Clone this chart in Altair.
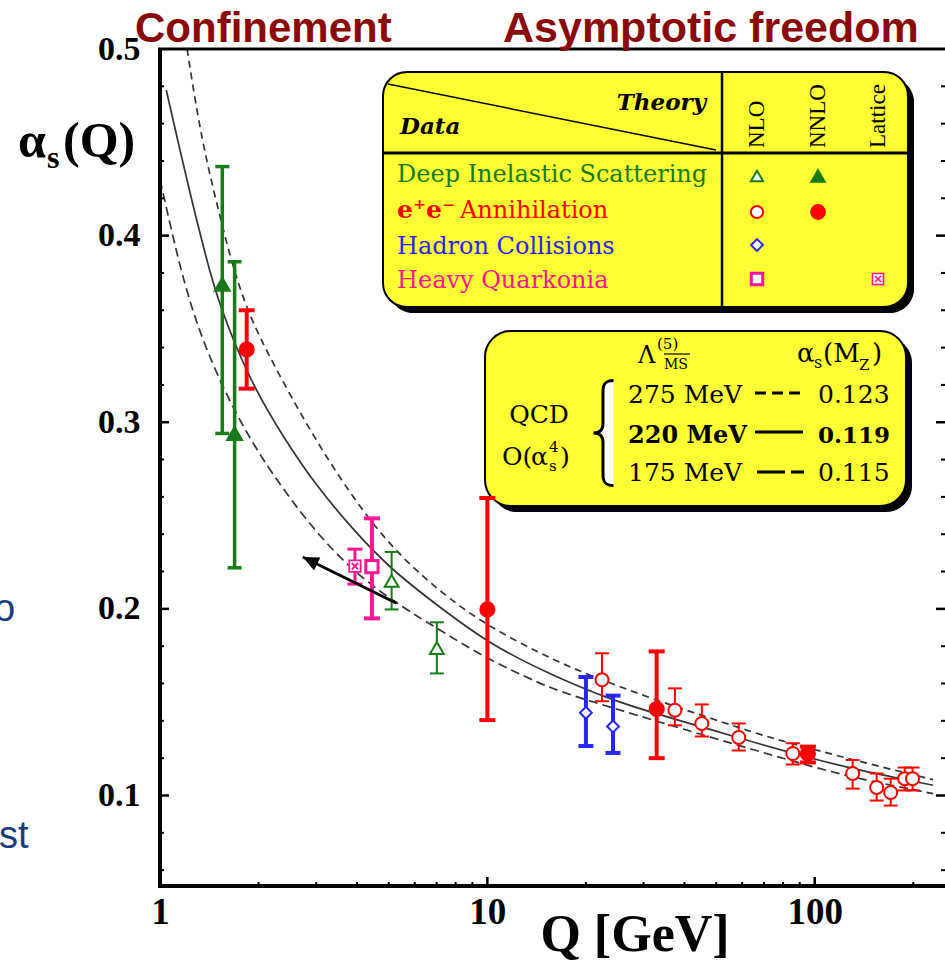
import altair as alt
import pandas as pd

# ---------------- data ----------------
# Q [GeV], alpha_s, lower / upper end of the error bar
dis_nlo_q = [5.10, 7.01]
dis_nlo_a = [0.215, 0.179]
dis_nlo_lo = [0.1997, 0.1654]
dis_nlo_hi = [0.2305, 0.1928]

dis_nnlo_q = [1.55, 1.69]
dis_nnlo_a = [0.374, 0.294]
dis_nnlo_lo = [0.294, 0.222]
dis_nnlo_hi = [0.437, 0.386]

ee_nlo_q = [22.4, 37.4, 45.2, 58.6, 85.7, 130.6, 154.6, 170.6, 188.3, 199.0]
ee_nlo_a = [0.1620, 0.1457, 0.1386, 0.1311, 0.1225, 0.1118, 0.1043, 0.1016, 0.1090, 0.1090]
ee_nlo_lo = [0.1505, 0.1376, 0.1316, 0.1241, 0.1166, 0.1037, 0.0973, 0.0946, 0.1027, 0.1027]
ee_nlo_hi = [0.1762, 0.1574, 0.1488, 0.1386, 0.1280, 0.1190, 0.1118, 0.1090, 0.1150, 0.1150]

ee_nnlo_q = [1.84, 10.0, 32.9, 95.3]
ee_nnlo_a = [0.339, 0.1997, 0.1463, 0.1225]
ee_nnlo_lo = [0.318, 0.1404, 0.1200, 0.1177]
ee_nnlo_hi = [0.360, 0.2594, 0.1772, 0.1262]

had_q = [20.0, 24.2]
had_a = [0.1443, 0.1370]
had_lo = [0.1265, 0.1228]
had_hi = [0.1635, 0.1535]

hq_nlo_q = [4.44]
hq_nlo_a = [0.2226]
hq_nlo_lo = [0.1949]
hq_nlo_hi = [0.2485]

hq_lat_q = [3.94]
hq_lat_a = [0.2229]
hq_lat_lo = [0.2133]
hq_lat_hi = [0.2320]

# QCD curves
c220_q = [1.045, 1.15, 1.25, 1.37, 1.5, 1.88, 2.4, 3.0, 3.8, 5.0, 7.2, 10, 15, 24, 34, 50, 68, 100, 136, 230]
c220_a = [0.478, 0.446, 0.419, 0.391, 0.365, 0.322, 0.291, 0.266, 0.2445, 0.222, 0.2005, 0.182, 0.166,
          0.151, 0.143, 0.1345, 0.1275, 0.1195, 0.1135, 0.1055]
c275_q = [1.21, 1.30, 1.40, 1.54, 1.69, 1.9, 2.4, 3.0, 3.8, 4.8, 6.0, 7.7, 10, 14.5, 20, 34, 50, 68, 100, 150, 230]
c275_a = [0.500, 0.465, 0.437, 0.407, 0.380, 0.354, 0.320, 0.290, 0.262, 0.2385, 0.221, 0.205, 0.191,
          0.176, 0.165, 0.150, 0.1405, 0.1325, 0.1245, 0.1165, 0.1085]
c175_q = [1.0, 1.09, 1.165, 1.28, 1.5, 1.88, 2.4, 3.0, 3.8, 4.8, 6.1, 7.2, 10, 14.5, 17, 34, 68, 100, 136, 230]
c175_a = [0.430, 0.401, 0.380, 0.355, 0.324, 0.2905, 0.263, 0.241, 0.222, 0.208, 0.196, 0.1885, 0.173,
          0.160, 0.155, 0.139, 0.1235, 0.115, 0.109, 0.101]

# arrow annotation (tail, tip)
arrow_q = [5.28, 2.73]
arrow_a = [0.2030, 0.2278]

# axis ticks
x_labels = [1, 10, 100]
x_major = [10, 100]
x_minor = [2, 3, 4, 5, 6, 7, 8, 9, 20, 30, 40, 50, 60, 70, 80, 90, 200]
y_labels = [0.1, 0.2, 0.3, 0.4, 0.5]
y_major = [0.1, 0.2, 0.3, 0.4]
y_minor = [0.06, 0.08, 0.12, 0.14, 0.16, 0.18, 0.22, 0.24, 0.26, 0.28, 0.32, 0.34, 0.36, 0.38,
           0.42, 0.44, 0.46, 0.48]

# ---------------- styling ----------------
GREEN = "#187a18"
RED = "#ff0000"
BLUE = "#2626f0"
MAGENTA = "#ff1493"
YELLOW = "#ffff33"
DARKRED = "#8a0a0a"
NAVY = "#1a3b7c"
CURVE = "#333333"
SERIF = "Liberation Serif"
LSERIF = "DejaVu Serif"
SANS = "Liberation Sans"

LATTICE = "M-1,-1L1,-1L1,1L-1,1Z M-0.55,-0.55L0.55,0.55 M0.55,-0.55L-0.55,0.55"
ARROWHEAD = "M0,0 L0.45,1 L-0.45,1 Z"
BRACE = ("M0.2,-1 C0.05,-1 0,-0.94 0,-0.8 L0,-0.18 C0,-0.06 -0.06,0 -0.18,0 "
         "C-0.06,0 0,0.06 0,0.18 L0,0.8 C0,0.94 0.05,1 0.2,1")

W, H = 785, 837
OX, OY = 160, 49
XS = alt.Scale(type="log", domain=[1, 250], nice=False)
YS = alt.Scale(domain=[0.0515, 0.5], nice=False, zero=False)
XAX = alt.Axis(values=x_labels, format="d", title=None, ticks=False, domain=False, grid=False,
               labelFont=SERIF, labelFontWeight="bold", labelFontSize=37, labelColor="black",
               labelPadding=8, labelFlush=False, labelOverlap=False)
YAX = alt.Axis(values=y_labels, format=".1f", title=None, ticks=False, domain=False, grid=False,
               labelFont=SERIF, labelFontWeight="bold", labelFontSize=34, labelColor="black",
               labelPadding=20, labelFlush=False, labelOverlap=False)


def X(field):
    return alt.X(field, type="quantitative", scale=XS, axis=XAX)


def Y(field):
    return alt.Y(field, type="quantitative", scale=YS, axis=YAX)


one = pd.DataFrame({"k": [0]})


def T(text, x, y, size, color="black", font=LSERIF, weight="normal", style="normal",
      align="left", baseline="alphabetic", angle=0):
    return alt.Chart(one).mark_text(text=text, fontSize=size, color=color, font=font,
                                    fontWeight=weight, fontStyle=style, align=align,
                                    baseline=baseline, angle=angle).encode(
        x=alt.value(x - OX), y=alt.value(y - OY))


def R(x1, y1, x2, y2, w=1.0, color="black", dash=None):
    kw = dict(color=color, strokeWidth=w)
    if dash:
        kw["strokeDash"] = dash
    return alt.Chart(one).mark_rule(**kw).encode(
        x=alt.value(x1 - OX), y=alt.value(y1 - OY), x2=alt.value(x2 - OX), y2=alt.value(y2 - OY))


def B(x1, y1, x2, y2, fill, r, stroke=None, w=0):
    kw = dict(color=fill, cornerRadius=r)
    if stroke:
        kw.update(stroke=stroke, strokeWidth=w)
    return alt.Chart(one).mark_rect(**kw).encode(
        x=alt.value(x1 - OX), y=alt.value(y1 - OY), x2=alt.value(x2 - OX), y2=alt.value(y2 - OY))


def S(x, y, shape, size, color, hollow=True, sw=2.0, angle=0):
    return alt.Chart(one).mark_point(shape=shape, size=size, filled=True,
                                     fill="white" if hollow else color, stroke=color,
                                     strokeWidth=sw, opacity=1, angle=angle).encode(
        x=alt.value(x - OX), y=alt.value(y - OY))


layers = []

# ---- curves ----
for q, a, dash in [(c275_q, c275_a, [7, 5]), (c175_q, c175_a, [9, 5]), (c220_q, c220_a, None)]:
    df = pd.DataFrame({"q": q, "a": a})
    kw = dict(color=CURVE, strokeWidth=1.7, interpolate="basis")
    if dash:
        kw["strokeDash"] = dash
    layers.append(alt.Chart(df).mark_line(**kw).encode(x=X("q"), y=Y("a")))

# ---- frame and inward ticks ----
layers.append(R(160, 49, 160, 886, w=4))
layers.append(R(158, 886, 945, 886, w=4))
layers.append(R(158, 49, 945, 49, w=3))
ymaj = pd.DataFrame({"v": y_major})
ymin = pd.DataFrame({"v": y_minor})
xmaj = pd.DataFrame({"v": x_major})
xmin = pd.DataFrame({"v": x_minor})
layers.append(alt.Chart(ymaj).mark_rule(strokeWidth=2.5, color="black").encode(
    y=Y("v"), x=alt.value(0), x2=alt.value(9)))
layers.append(alt.Chart(ymin).mark_rule(strokeWidth=2, color="black").encode(
    y=Y("v"), x=alt.value(0), x2=alt.value(4)))
layers.append(alt.Chart(ymaj).mark_rule(strokeWidth=2.5, color="black").encode(
    y=Y("v"), x=alt.value(W - 9), x2=alt.value(W)))
layers.append(alt.Chart(ymin).mark_rule(strokeWidth=2, color="black").encode(
    y=Y("v"), x=alt.value(W - 4), x2=alt.value(W)))
layers.append(alt.Chart(xmaj).mark_rule(strokeWidth=2.5, color="black").encode(
    x=X("v"), y=alt.value(H), y2=alt.value(H - 9)))
layers.append(alt.Chart(xmin).mark_rule(strokeWidth=2, color="black").encode(
    x=X("v"), y=alt.value(H), y2=alt.value(H - 4)))

# ---- legend box 1 ----
layers += [
    B(389, 78, 914, 313, "black", 24),
    B(383, 72, 908, 307, YELLOW, 24, stroke="black", w=2),
    R(383, 153, 908, 153, w=3),
    R(722, 72, 722, 307, w=2.5),
    R(388, 84, 716, 150, w=1.5),
    T("Theory", 706, 110, 23, weight="bold", style="italic", align="right"),
    T("Data", 400, 134, 23, weight="bold", style="italic"),
    T("NLO", 757, 148, 23, font=SERIF, angle=270, baseline="middle"),
    T("NNLO", 818, 148, 23, font=SERIF, angle=270, baseline="middle"),
    T("Lattice", 878, 148, 23, font=SERIF, angle=270, baseline="middle"),
    T("Deep Inelastic Scattering", 397, 182, 24, color=GREEN),
    T("e\u207ae\u207b", 397, 218, 25, color=RED, weight="bold"),
    T("Annihilation", 460, 218, 24, color=RED),
    T("Hadron Collisions", 397, 254, 24, color=BLUE),
    T("Heavy Quarkonia", 397, 288, 24, color=MAGENTA),
    S(757, 176, "triangle-up", 150, GREEN, hollow=True),
    S(818, 176, "triangle-up", 180, GREEN, hollow=False),
    S(757, 212, "circle", 150, RED, hollow=True),
    S(818, 212, "circle", 190, RED, hollow=False),
    S(757, 245, "diamond", 140, BLUE, hollow=True),
    S(757, 279, "square", 130, MAGENTA, hollow=True, sw=3),
    S(878, 279, LATTICE, 121, MAGENTA, hollow=True, sw=1.6),
]

# ---- legend box 2 ----
layers += [
    B(491, 337, 912, 512, "black", 26),
    B(485, 331, 906, 506, YELLOW, 26, stroke="black", w=2),
    T("\u039b", 638, 363, 24),
    T("(5)", 657, 349, 15),
    T("MS", 664, 369, 14),
    R(664, 354, 690, 354, w=1.2),
    T("\u03b1", 797, 362, 26),
    T("s", 814, 368, 16),
    T("(M", 823, 362, 26),
    T("Z", 859, 370, 15),
    T(")", 872, 362, 26),
    T("QCD", 539, 423, 25, align="center"),
    T("O(", 502, 465, 25),
    T("\u03b1", 531, 465, 25),
    T("4", 549, 452, 15),
    T("s", 549, 471, 15),
    T(")", 560, 465, 25),
    S(603, 433, BRACE, 11025, "black", hollow=True, sw=3),
    T("275 MeV", 628, 403, 25),
    R(755, 393, 802, 393, w=3, dash=[11, 6]),
    T("0.123", 818, 403, 25),
    T("220 MeV", 628, 443, 24, weight="bold"),
    R(755, 432, 803, 432, w=3),
    T("0.119", 818, 443, 23, weight="bold"),
    T("175 MeV", 628, 481, 25),
    R(757, 472, 805, 472, w=3, dash=[28, 6, 13, 60]),
    T("0.115", 818, 481, 25),
]

# ---- data series: error bars and markers ----
series = [
    (dis_nnlo_q, dis_nnlo_a, dis_nnlo_lo, dis_nnlo_hi, GREEN, "triangle-up", False, 3.5, 14, 225, 2),
    (ee_nnlo_q, ee_nnlo_a, ee_nnlo_lo, ee_nnlo_hi, RED, "circle", False, 4, 16, 200, 2),
    (hq_lat_q, hq_lat_a, hq_lat_lo, hq_lat_hi, MAGENTA, LATTICE, True, 3, 15, 130, 1.8),
    (hq_nlo_q, hq_nlo_a, hq_nlo_lo, hq_nlo_hi, MAGENTA, "square", True, 4, 16, 150, 3),
    (dis_nlo_q, dis_nlo_a, dis_nlo_lo, dis_nlo_hi, GREEN, "triangle-up", True, 2, 14, 190, 2),
    (had_q, had_a, had_lo, had_hi, BLUE, "diamond", True, 4, 15, 140, 2),
    (ee_nlo_q, ee_nlo_a, ee_nlo_lo, ee_nlo_hi, RED, "circle", True, 2, 14, 170, 2),
]
for q, a, lo, hi, col, shape, hollow, w, cap, size, sw in series:
    df = pd.DataFrame({"q": q, "a": a, "lo": lo, "hi": hi})
    layers.append(alt.Chart(df).mark_rule(color=col, strokeWidth=w).encode(
        x=X("q"), y=Y("lo"), y2="hi:Q"))
    layers.append(alt.Chart(df).transform_fold(["lo", "hi"], as_=["end", "v"]).mark_tick(
        orient="horizontal", size=cap, thickness=w, color=col, opacity=1).encode(
        x=X("q"), y=Y("v")))
    layers.append(alt.Chart(df).mark_point(shape=shape, size=size, filled=True,
                                           fill="white" if hollow else col, stroke=col,
                                           strokeWidth=sw, opacity=1).encode(
        x=X("q"), y=Y("a")))

# ---- arrow ----
adf = pd.DataFrame({"q": arrow_q, "a": arrow_a})
layers.append(alt.Chart(adf).mark_line(color="black", strokeWidth=3).encode(x=X("q"), y=Y("a")))
layers.append(alt.Chart(adf.iloc[[1]]).mark_point(shape=ARROWHEAD, size=1024, filled=True,
                                                  color="black", opacity=1, angle=296).encode(
    x=X("q"), y=Y("a")))

# ---- titles and axis titles ----
layers += [
    T("Confinement", 135, 42, 42, color=DARKRED, font=SANS, weight="bold"),
    T("Asymptotic freedom", 503, 42, 43, color=DARKRED, font=SANS, weight="bold"),
    T("\u03b1", 18, 157, 50, font=SERIF, weight="bold"),
    T("s", 47, 168, 32, font=SERIF, weight="bold"),
    T("(Q)", 63, 157, 50, font=SERIF, weight="bold"),
    T("Q [GeV]", 635, 951, 52, font=SERIF, weight="bold", align="center"),
    T("o", -6, 621, 38, color=NAVY, font=SANS),
    T("st", -1, 848, 38, color=NAVY, font=SANS),
]

chart = alt.layer(*layers).properties(
    width=W, height=H,
    padding={"left": OX, "top": OY, "right": 0, "bottom": 961 - OY - H},
    autosize=alt.AutoSizeParams(type="none"),
).configure_view(stroke=None)

chart.save("out.html", embed_options={"renderer": "svg", "actions": False})
